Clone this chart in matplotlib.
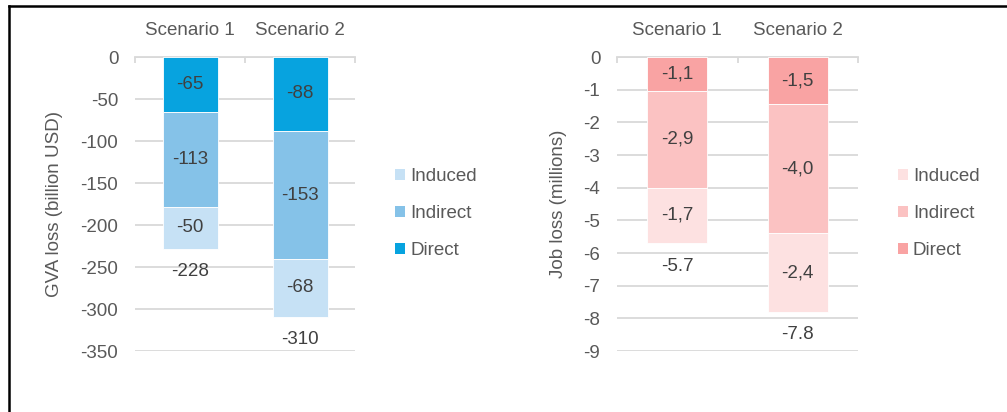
import matplotlib.pyplot as plt
from matplotlib.lines import Line2D
from matplotlib.patches import Patch

plt.rcParams['font.family'] = ['Liberation Sans', 'DejaVu Sans']

# === Dados ===
scenarios = ['Scenario 1', 'Scenario 2']
components = ['Direct', 'Indirect', 'Induced']

gva_direct = [-65, -88]
gva_indirect = [-113, -153]
gva_induced = [-50, -68]
gva_totals = ['-228', '-310']
gva_labels = [['-65', '-88'], ['-113', '-153'], ['-50', '-68']]

job_direct = [-1.05, -1.45]
job_indirect = [-2.95, -3.95]
job_induced = [-1.7, -2.4]
job_totals = ['-5.7', '-7.8']
job_labels = [['-1,1', '-1,5'], ['-2,9', '-4,0'], ['-1,7', '-2,4']]

gva_ticks = [0, -50, -100, -150, -200, -250, -300, -350]
job_ticks = [0, -1, -2, -3, -4, -5, -6, -7, -8, -9]

blues = ['#07A3DF', '#85C2E8', '#C6E1F5']
pinks = ['#F9A3A3', '#FBC2C2', '#FDE1E1']

W, H = 1007, 412
fig = plt.figure(figsize=(W / 100, H / 100), dpi=100)

grid_c = '#D9D9D9'
tick_c = '#595959'
lab_c = '#404040'
fs = 13.5


def px_axes(x0, x1, y_top, y_bot):
    return fig.add_axes([x0 / W, (H - y_bot) / H, (x1 - x0) / W, (y_bot - y_top) / H])


def draw_panel(ax, series, labels, totals, colors, ticks, ylabel, ylab_x, leg_x):
    x = list(range(len(scenarios)))
    bottom = [0.0] * len(scenarios)
    for vals, labs, col in zip(series, labels, colors):
        ax.bar(x, vals, width=0.5, bottom=bottom, color=col,
               edgecolor='white', linewidth=0.6, zorder=3)
        for b, v, bt, t in zip(x, vals, bottom, labs):
            ax.text(b, bt + v / 2, t, ha='center', va='center', fontsize=fs,
                    color=lab_c, zorder=4)
        bottom = [bt + v for bt, v in zip(bottom, vals)]
    for b, bt, t in zip(x, bottom, totals):
        ax.annotate(t, (b, bt), xytext=(0, -16.5), textcoords='offset points',
                    ha='center', va='center', fontsize=fs, color=lab_c)

    ax.set_xlim(-0.5, len(scenarios) - 0.5)
    ax.set_ylim(ticks[-1], 0)
    ax.set_yticks(ticks)
    ax.set_yticklabels([str(t) for t in ticks])
    ax.yaxis.grid(True, color=grid_c, linewidth=1.3, zorder=0)
    ax.set_axisbelow(True)

    ax.xaxis.tick_top()
    ax.set_xticks(x)
    ax.set_xticklabels(scenarios)
    ax.set_xticks([-0.5, 0.5, 1.5], minor=True)
    ax.tick_params(axis='x', which='major', length=0, pad=13, labelsize=fs,
                   labelcolor=tick_c)
    ax.tick_params(axis='x', which='minor', direction='in', length=4,
                   color=grid_c, width=1.3, top=True, bottom=False)
    ax.tick_params(axis='y', length=0, pad=12, labelsize=fs, labelcolor=tick_c)

    for s in ['left', 'right', 'bottom']:
        ax.spines[s].set_visible(False)
    ax.spines['top'].set_color(grid_c)
    ax.spines['top'].set_linewidth(1.3)

    ax.set_ylabel(ylabel, fontsize=fs, color=tick_c)
    ax.yaxis.set_label_coords(ylab_x, 0.5)

    handles = [Patch(facecolor=c, edgecolor='none') for c in colors[::-1]]
    fig.legend(handles, components[::-1], loc='center left',
               bbox_to_anchor=(leg_x, 0.482), frameon=False, fontsize=fs,
               handlelength=0.55, handleheight=0.55, handletextpad=0.25,
               labelspacing=1.07, borderpad=0, borderaxespad=0,
               labelcolor=tick_c)


ax1 = px_axes(135, 355, 57, 351)
draw_panel(ax1, [gva_direct, gva_indirect, gva_induced], gva_labels, gva_totals,
           blues, gva_ticks, 'GVA loss (billion USD)', -0.327, 395 / W)

ax2 = px_axes(617, 858, 57, 351)
draw_panel(ax2, [job_direct, job_indirect, job_induced], job_labels, job_totals,
           pinks, job_ticks, 'Job loss (millions)', -0.2075, 898 / W)

# moldura preta (topo e esquerda)
fig.add_artist(Line2D([9 / W, 1.0], [1 - 6 / H, 1 - 6 / H], color='black',
                      linewidth=1.8, transform=fig.transFigure))
fig.add_artist(Line2D([9 / W, 9 / W], [1 - 6 / H, 0.0], color='black',
                      linewidth=1.8, transform=fig.transFigure))

fig.savefig('out.png', dpi=100)
